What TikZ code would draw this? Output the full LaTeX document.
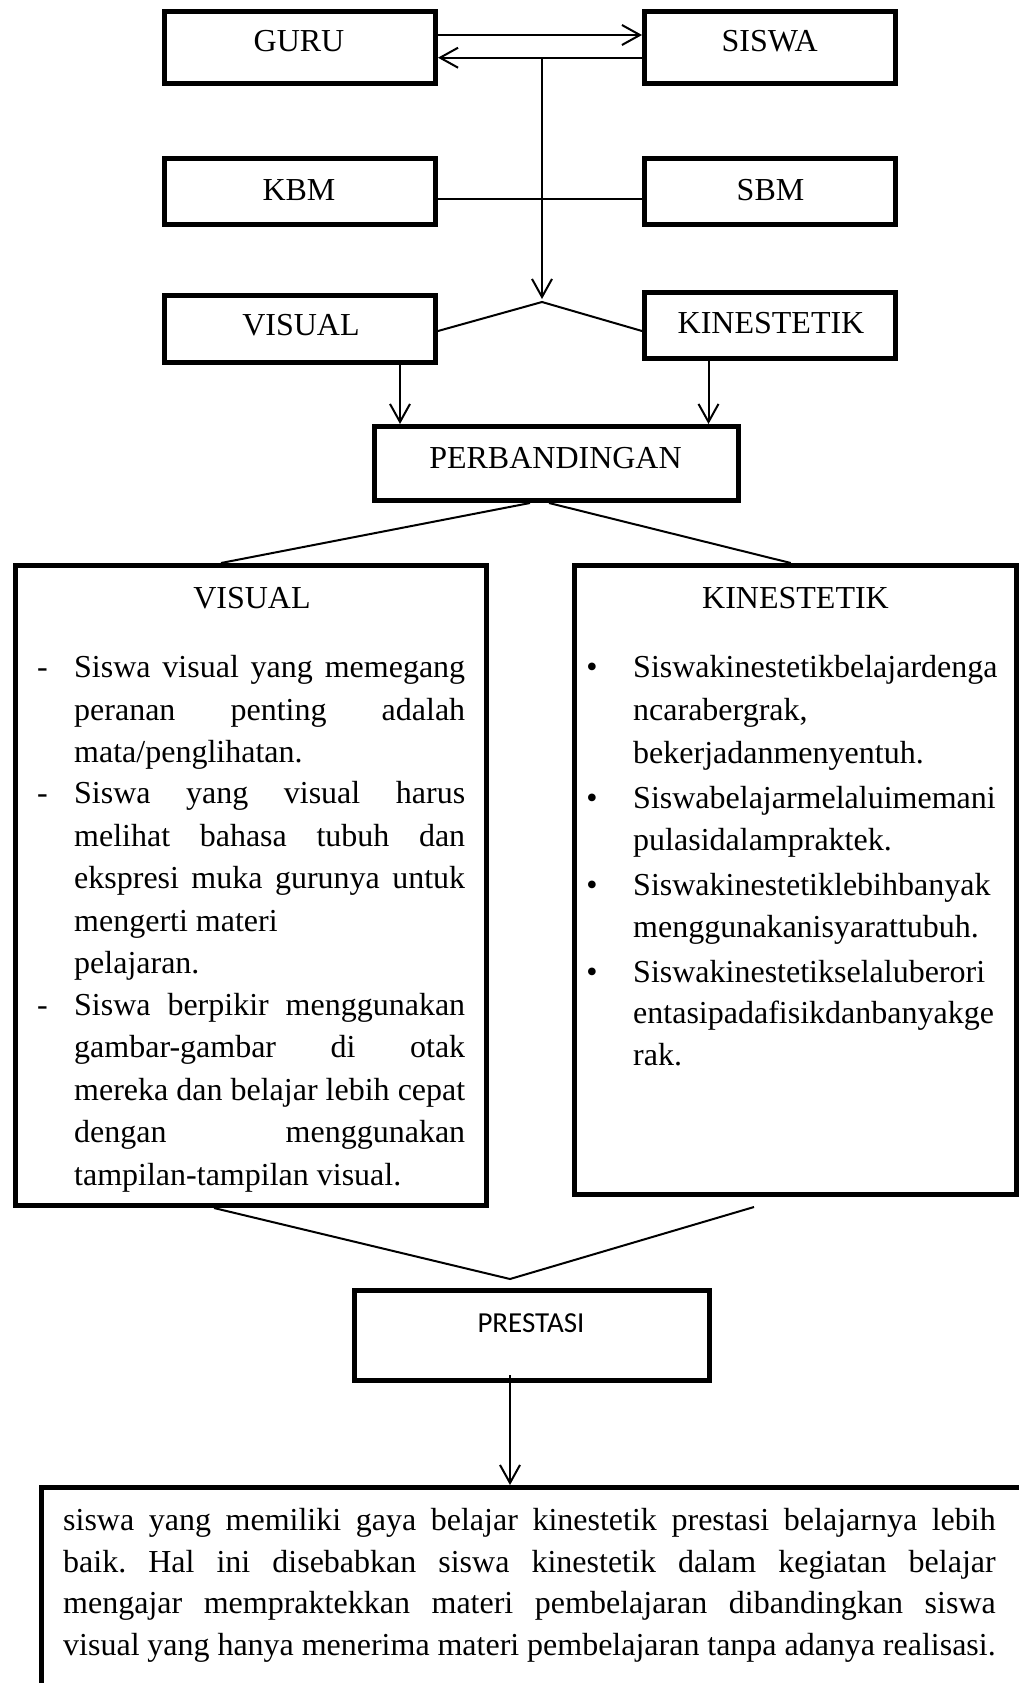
\documentclass[tikz,border=0pt]{standalone}
\usepackage{fontspec}
\setmainfont{Liberation Serif}
\newfontfamily\calibfont{Carlito}
\usetikzlibrary{arrows.meta,calc}
\begin{document}
\begin{tikzpicture}[x=1pt,y=-1pt,
  box/.style={draw, line width=5pt, inner sep=0pt, rectangle},
  lbl/.style={inner sep=0pt, font=\fontsize{32}{42}\selectfont\frenchspacing},
  ln/.style={line width=2pt},
  arr/.style={line width=2pt, -{Straight Barb[length=18pt,width=20pt]}},
]
\useasboundingbox (0,0) rectangle (1019,1683);
\fill[white] (0,0) rectangle (1019,1683);
\clip (0,0) rectangle (1019,1683);

% ---------- boxes ----------
\node[box, minimum width=271pt, minimum height=72pt] (guru)  at (300,47.5) {};
\node[box, minimum width=251pt, minimum height=72pt] (siswa) at (770,47.5) {};
\node[box, minimum width=271pt, minimum height=66pt] (kbm)   at (300,191.5) {};
\node[box, minimum width=251pt, minimum height=66pt] (sbm)   at (770,191.5) {};
\node[box, minimum width=271pt, minimum height=67pt] (visS)  at (300,329) {};
\node[box, minimum width=251pt, minimum height=66pt] (kinS)  at (770,325.5) {};
\node[box, minimum width=364pt, minimum height=74pt] (perb)  at (556.5,463.5) {};
\node[box, minimum width=471pt, minimum height=640pt] (visB) at (251,885.5) {};
\node[box, minimum width=441.5pt, minimum height=629pt] (kinB) at (795.25,880) {};
\node[box, minimum width=355pt, minimum height=90pt] (pres)  at (532,1335.5) {};
\node[box, minimum width=996pt, minimum height=230pt] (bot)  at (539.5,1602.5) {};

% ---------- box labels ----------
\node[lbl, anchor=base] (tguru)  at (299,52)    {GURU};
\node[lbl, anchor=base] (tsiswa) at (769.6,52)  {SISWA};
\node[lbl, anchor=base] (tkbm)   at (299,200)   {KBM};
\node[lbl, anchor=base] (tsbm)   at (770.5,200) {SBM};
\node[lbl, anchor=base] (tvisS)  at (301,335)   {VISUAL};
\node[lbl, anchor=base] (tkinS)  at (771,333)   {KINESTETIK};
\node[lbl, anchor=base] (tperb)  at (555.5,468) {PERBANDINGAN};
\node[lbl, anchor=base] (tvisB)  at (252,608)   {VISUAL};
\node[lbl, anchor=base] (tkinB)  at (795.5,608) {KINESTETIK};
\node[inner sep=0pt, anchor=base, font=\calibfont\fontsize{29}{35}\selectfont] (tpres) at (531,1332) {PRESTASI};

% ---------- left list ----------
\node[lbl, anchor=base west] (d1) at (37,677)  {-};
\node[lbl, anchor=base west] (d2) at (37,803)  {-};
\node[lbl, anchor=base west] (d3) at (37,1015) {-};
\node[lbl, anchor=base west] (l1)  at (74,677)  {\makebox[391pt][s]{Siswa visual yang memegang}};
\node[lbl, anchor=base west] (l2)  at (74,720)  {\makebox[391pt][s]{peranan penting adalah}};
\node[lbl, anchor=base west] (l3)  at (74,762)  {mata/penglihatan.};
\node[lbl, anchor=base west] (l4)  at (74,803)  {\makebox[391pt][s]{Siswa yang visual harus}};
\node[lbl, anchor=base west] (l5)  at (74,846)  {\makebox[391pt][s]{melihat bahasa tubuh dan}};
\node[lbl, anchor=base west] (l6)  at (74,888)  {\makebox[391pt][s]{ekspresi muka gurunya untuk}};
\node[lbl, anchor=base west] (l7)  at (74,931)  {mengerti materi};
\node[lbl, anchor=base west] (l8)  at (74,973)  {pelajaran.};
\node[lbl, anchor=base west] (l9)  at (74,1015) {\makebox[391pt][s]{Siswa berpikir menggunakan}};
\node[lbl, anchor=base west] (l10) at (74,1057) {\makebox[391pt][s]{gambar-gambar di otak}};
\node[lbl, anchor=base west] (l11) at (74,1100) {\makebox[391pt][s]{mereka dan belajar lebih cepat}};
\node[lbl, anchor=base west] (l12) at (74,1142) {\makebox[391pt][s]{dengan menggunakan}};
\node[lbl, anchor=base west] (l13) at (74,1185) {tampilan-tampilan visual.};

% ---------- right list ----------
\node[lbl, anchor=base] (b1) at (592,677) {\textbullet};
\node[lbl, anchor=base] (b2) at (592,808) {\textbullet};
\node[lbl, anchor=base] (b3) at (592,895) {\textbullet};
\node[lbl, anchor=base] (b4) at (592,982) {\textbullet};
\node[lbl, anchor=base west] (r1)  at (633,677)  {Siswakinestetikbelajardenga};
\node[lbl, anchor=base west] (r2)  at (633,720)  {ncarabergrak,};
\node[lbl, anchor=base west] (r3)  at (633,763)  {bekerjadanmenyentuh.};
\node[lbl, anchor=base west] (r4)  at (633,808)  {Siswabelajarmelaluimemani};
\node[lbl, anchor=base west] (r5)  at (633,850)  {pulasidalampraktek.};
\node[lbl, anchor=base west] (r6)  at (633,895)  {Siswakinestetiklebihbanyak};
\node[lbl, anchor=base west] (r7)  at (633,937)  {menggunakanisyarattubuh.};
\node[lbl, anchor=base west] (r8)  at (633,982)  {Siswakinestetikselaluberori};
\node[lbl, anchor=base west] (r9)  at (633,1023) {entasipadafisikdanbanyakge};
\node[lbl, anchor=base west] (r10) at (633,1065) {rak.};

% ---------- bottom text ----------
\node[lbl, anchor=base west] (p1) at (63,1530) {\makebox[932.5pt][s]{siswa yang memiliki gaya belajar kinestetik prestasi belajarnya lebih}};
\node[lbl, anchor=base west] (p2) at (63,1572) {\makebox[932.5pt][s]{baik. Hal ini disebabkan siswa kinestetik dalam kegiatan belajar}};
\node[lbl, anchor=base west] (p3) at (63,1613) {\makebox[932.5pt][s]{mengajar mempraktekkan materi pembelajaran dibandingkan siswa}};
\node[lbl, anchor=base west] (p4) at (63,1655) {\makebox[932.5pt][s]{visual yang hanya menerima materi pembelajaran tanpa adanya realisasi.}};

% ---------- connectors ----------
\draw[arr] ($(guru.east)+(0,-12.5)$) -- ($(siswa.west)+(0,-12.5)$);
\draw[arr] ($(siswa.west)+(0,10.2)$) -- ($(guru.east)+(0,10.2)$);
\coordinate (j1) at (542,57.7);
\coordinate (apex1) at (542,302);
\draw[arr] (j1) -- ($(apex1)+(0,-3)$);
\draw[ln] ($(kbm.east)+(0,7.5)$) -- ($(sbm.west)+(0,7.5)$);
\draw[ln] ($(visS.east)+(0,2)$) -- (apex1) -- ($(kinS.west)+(0,5.5)$);
\draw[arr] ([xshift=100pt]visS.south) -- ([xshift=100pt]visS.south |- perb.north);
\draw[arr] ([xshift=-61.5pt]kinS.south) -- ([xshift=-61.5pt]kinS.south |- perb.north);
\draw[ln] ([xshift=-26.5pt]perb.south) -- ([xshift=-30pt]visB.north);
\draw[ln] ([xshift=-7.5pt]perb.south) -- ([xshift=-4.5pt]kinB.north);
\coordinate (apex2) at (510,1279);
\coordinate (kfree) at (754,1207);
\draw[ln] ([xshift=-37pt]visB.south) -- (apex2) -- (kfree);
\draw[arr] ([xshift=-22pt,yshift=8pt]pres.south) -- ([xshift=-22pt]pres.south |- bot.north);
\end{tikzpicture}
\end{document}
